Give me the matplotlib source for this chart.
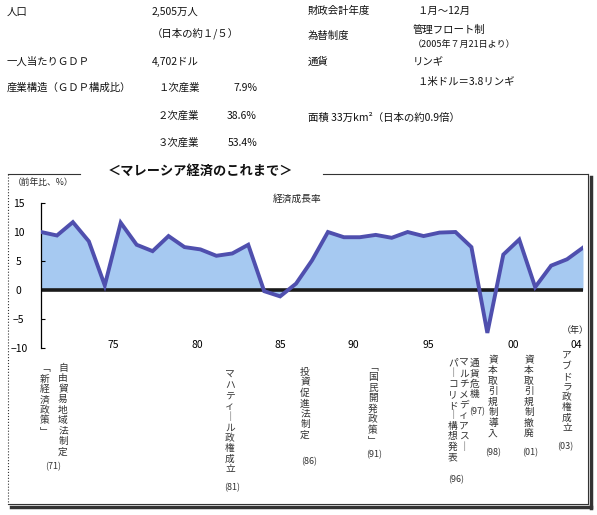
import matplotlib
matplotlib.use("Agg")
import matplotlib.pyplot as plt
from matplotlib.lines import Line2D

plt.rcParams['font.family'] = ['Noto Sans CJK JP', 'DejaVu Sans']

# ---- data ----
years = list(range(1970, 2005))
growth = [10.0, 9.4, 11.7, 8.4, 0.8, 11.6, 7.8, 6.7, 9.3, 7.4,
          7.0, 5.9, 6.3, 7.8, -0.2, -1.1, 1.1, 5.1, 10.0, 9.1,
          9.1, 9.5, 9.0, 10.0, 9.3, 9.9, 10.0, 7.4, -7.4, 6.1,
          8.7, 0.5, 4.2, 5.3, 7.3]
xtick_labels = ["75", "80", "85", "90", "95", "00", "04"]
xtick_pos = [1974.5, 1979.8, 1985.0, 1989.6, 1994.3, 1999.6, 2003.6]
yticks = [15, 10, 5, 0, -5, -10]
ytick_labels = ["15", "10", "5", "0", "−5", "−10"]

W, H = 597, 515
fig = plt.figure(figsize=(W / 100, H / 100), dpi=100)


def P(x, y):
    return x / W, 1 - y / H


# ---- info text at top ----
info_fs = 7.5
left_info = [
    (7, 12, "人口"), (152, 12, "2,505万人"), (152, 33, "（日本の約１/５）"),
    (7, 62, "一人当たりＧＤＰ"), (152, 62, "4,702ドル"),
    (7, 88, "産業構造（ＧＤＰ構成比）"),
    (158, 88, "１次産業"), (158, 116, "２次産業"), (158, 143, "３次産業"),
    (308, 11, "財政会計年度"), (417, 11, "１月～12月"),
    (308, 36, "為替制度"), (413, 30, "管理フロート制"),
    (308, 62, "通貨"), (413, 62, "リンギ"), (417, 82, "１米ドル＝3.8リンギ"),
    (308, 118, "面積 33万km²（日本の約0.9倍）"),
]
for x, y, t in left_info:
    fig.text(*P(x, y), t, fontsize=info_fs, ha='left', va='center', color='#111')
fig.text(*P(413, 44), "（2005年７月21日より）", fontsize=6.5, ha='left', va='center', color='#111')
for y, t in [(88, "7.9%"), (116, "38.6%"), (143, "53.4%")]:
    fig.text(*P(257, y), t, fontsize=info_fs, ha='right', va='center', color='#111')

# ---- frame ----
frame = [
    ([8, 80], [174, 174], 0.8, '-'), ([323, 588], [174, 174], 0.8, '-'),
    ([8, 8], [174, 504], 0.8, ':'),
    ([588, 588], [174, 504], 0.8, '-'), ([8, 588], [504, 504], 0.8, '-'),
    ([590.5, 590.5], [177, 508], 2.5, '-'), ([11, 590.5], [507, 507], 2.5, '-'),
]
for xs, ys, lw, ls in frame:
    fig.add_artist(Line2D([x / W for x in xs], [1 - y / H for y in ys],
                          lw=lw, ls=ls, color='#333'))

fig.text(*P(200, 171), "＜マレーシア経済のこれまで＞", fontsize=9.5,
         fontweight='bold', ha='center', va='center', color='#111')

# ---- chart ----
ax = fig.add_axes([41 / W, 1 - 348 / H, (583 - 41) / W, (348 - 203) / H])
ax.fill_between(years, growth, 0, color='#a6c9f1', lw=0, zorder=1)
ax.axhline(0, color='#1a1a1a', lw=2.6, zorder=2)
ax.plot(years, growth, color='#4f4fae', lw=2.8, zorder=3, solid_joinstyle='miter')
ax.set_xlim(1970, 2004)
ax.set_ylim(-10, 15)
for s in ['top', 'right', 'bottom']:
    ax.spines[s].set_visible(False)
ax.spines['left'].set_linewidth(0.9)
ax.set_yticks(yticks)
ax.set_yticklabels(ytick_labels, fontsize=7.5)
for lbl in ax.get_yticklabels():
    lbl.set_ha('center')
ax.tick_params(axis='y', direction='in', length=3, pad=16)
ax.set_xticks(xtick_pos)
ax.set_xticklabels(xtick_labels, fontsize=7.5)
ax.tick_params(axis='x', length=0, pad=-6)
ax.set_facecolor('none')

fig.text(*P(13, 183), "（前年比、%）", fontsize=6.3, ha='left', va='center', color='#222')
fig.text(*P(297, 199), "経済成長率", fontsize=7, ha='center', va='center', color='#222')
fig.text(*P(575, 331), "（年）", fontsize=6.5, ha='center', va='center', color='#222')

# ---- vertical annotations ----
ann_fs = 7
vcols = [
    (45, 363, "﹁新経済政策﹂"),
    (63, 363, "自由貿易地域法制定"),
    (230, 370, "マハティ｜ル政権成立"),
    (305, 367, "投資促進法制定"),
    (373, 362, "﹁国民開発政策﹂"),
    (464, 358, "マルチメディアス｜"),
    (453, 358, "パ｜コリド｜構想発表"),
    (475, 358, "通貨危機"),
    (493, 355, "資本取引規制導入"),
    (529, 355, "資本取引規制撤廃"),
    (567, 350, "アブドラ政権成立"),
]
for x, y, t in vcols:
    fig.text(*P(x, y), "\n".join(t), fontsize=ann_fs, ha='center', va='top',
             linespacing=1.06, multialignment='center', color='#333')
for x, y, t in [(53, 467, "(71)"), (232, 488, "(81)"), (309, 462, "(86)"),
                (374, 455, "(91)"), (456, 480, "(96)"), (477, 412, "(97)"),
                (493, 453, "(98)"), (530, 453, "(01)"), (565, 447, "(03)")]:
    fig.text(*P(x, y), t, fontsize=6.5, ha='center', va='center', color='#333')

fig.savefig("out.png", dpi=100)
